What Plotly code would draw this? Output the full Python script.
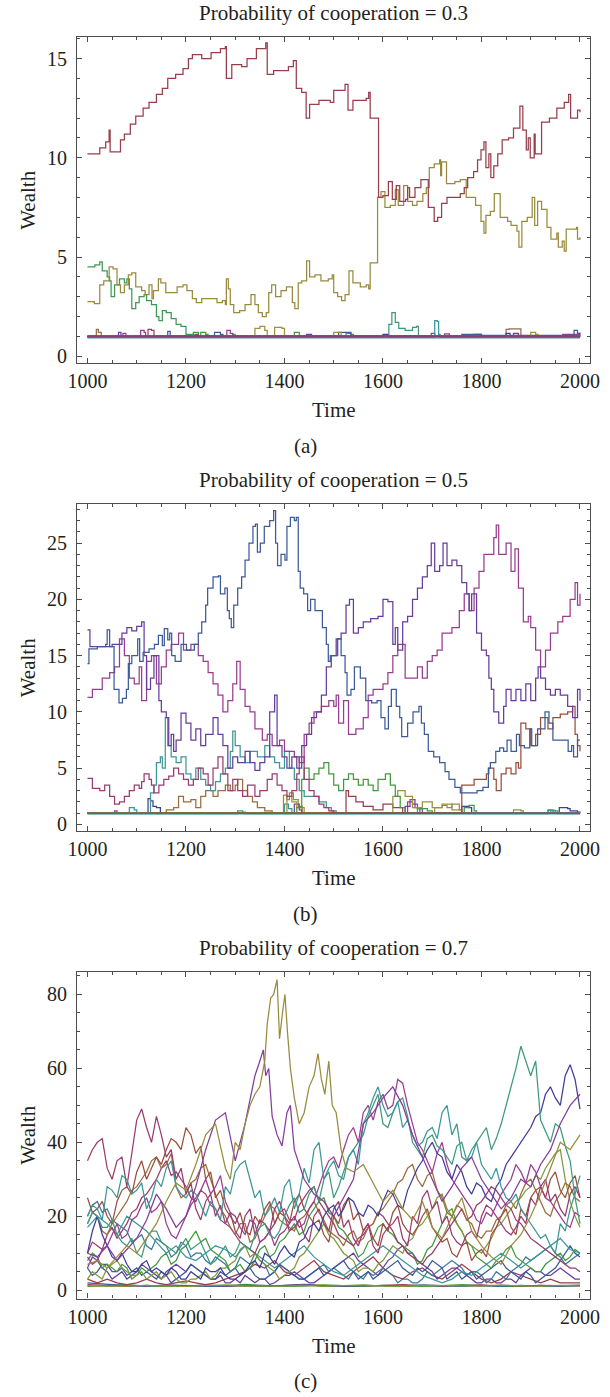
import plotly.graph_objects as go

FONT = "Liberation Serif, Times New Roman, serif"
TXT = "#231f20"
FRAME = "#4d4d4d"

# ---------------- colours (Mathematica-like default palette) ----------------
C_BLUEV = "#3F3D99"; C_REDMAG = "#993D71"; C_OLIVE = "#998B3D"; C_GREEN = "#3D9956"
C_BLUE = "#3D5A99"; C_MAGENTA = "#993D90"; C_BROWN = "#996D3D"; C_GREEN2 = "#43993D"
C_TEALBLUE = "#3D7999"; C_PURPLE = "#843D99"; C_REDBROWN = "#994E3D"; C_YGREEN = "#80993D"
C_CYAN = "#3D9799"; C_VIOLET = "#663D9C"; C_RED = "#993D4B"; C_TEALGREEN = "#3D997C"
C_YELLOW = "#99933D"; C_RED2 = "#993D6A"

# ============================ PANEL (a) p = 0.3 ============================
a_red_t = [1000,1010,1025,1037,1044,1046,1060,1067,1075,1087,1098,1113,1125,1140,1152,1163,1179,1194,1205,1213,
           1232,1251,1270,1280,1282,1293,1313,1324,1343,1362,1365,1378,1397,1408,1418,1424,1435,1444,1451,1470,
           1493,1500,1523,1529,1539,1566,1571,1574,1582,1591,1600,1611,1619,1627,1634,1646,1650,1654,1665,1677,
           1684,1692,1704,1711,1719,1730,1757,1765,1772,1784,1792,1799,1805,1809,1815,1819,1825,1833,1842,1855,
           1865,1878,1884,1891,1895,1899,1907,1909,1922,1938,1953,1968,1977,1981,1991,1995,2000]
a_red_w = [10.2,10.2,10.5,10.8,11.4,10.3,10.3,10.9,11.2,11.7,12.1,12.5,12.8,13.2,13.5,14.0,14.2,14.5,15.0,15.2,
           15.0,15.3,15.5,15.6,14.0,14.7,14.6,15.0,15.5,15.8,14.2,14.4,14.4,14.6,14.9,13.5,13.3,12.0,12.7,12.9,
           12.8,13.4,13.7,12.4,12.9,13.0,13.3,12.0,12.0,8.0,8.1,8.8,7.9,8.6,7.8,7.9,8.5,8.0,8.5,8.9,
           8.9,7.5,6.8,7.0,7.7,8.0,8.2,8.5,9.0,9.3,9.9,10.4,10.8,9.5,10.2,9.0,9.6,10.2,10.9,11.0,
           11.5,12.6,11.4,10.4,11.0,10.0,11.2,10.2,11.8,12.0,12.5,12.8,13.2,12.0,12.0,12.4,12.3]

a_olive_t = [1000,1014,1025,1033,1044,1052,1060,1067,1075,1083,1090,1098,1110,1117,1125,1131,1134,1144,1149,1159,
             1171,1182,1194,1202,1213,1221,1232,1248,1263,1274,1280,1282,1286,1290,1297,1309,1320,1332,1340,1347,
             1355,1363,1368,1374,1382,1393,1404,1416,1421,1428,1435,1445,1451,1462,1474,1489,1497,1500,1508,1516,
             1523,1531,1539,1554,1566,1571,1574,1582,1589,1596,1604,1615,1625,1631,1642,1650,1660,1669,1681,1688,
             1694,1704,1715,1717,1719,1729,1746,1757,1763,1769,1780,1788,1799,1805,1809,1818,1826,1838,1853,1860,
             1872,1876,1882,1893,1903,1908,1914,1922,1933,1941,1953,1956,1964,1968,1972,1993,1995,2000]
a_olive_w = [2.75,2.65,3.6,3.8,4.5,4.4,3.6,3.2,3.6,4.1,4.2,3.5,3.3,3.1,3.6,2.9,3.3,3.9,3.7,3.2,
             3.2,3.5,3.6,3.3,2.9,2.7,2.9,2.9,2.7,2.8,2.6,3.9,3.4,2.6,2.2,2.3,2.6,3.1,2.6,2.2,
             2.0,2.2,3.2,3.6,3.0,3.3,3.5,2.7,2.4,3.7,3.8,4.8,4.0,4.1,3.8,3.9,4.1,3.2,3.0,2.8,
             3.1,4.3,3.7,3.5,3.6,3.4,4.7,4.7,8.0,8.3,7.5,7.6,8.4,7.6,8.6,7.8,7.6,7.8,8.2,8.5,
             9.5,9.7,9.9,9.1,9.8,8.7,8.8,8.9,8.9,8.0,8.0,7.6,6.8,6.2,7.1,7.3,8.2,7.0,6.8,6.6,
             6.3,5.5,6.8,7.0,8.0,6.6,7.8,7.4,6.5,5.9,6.2,5.5,5.8,5.3,6.4,6.5,5.9,6.0]

a_green_t = [1000,1015,1025,1030,1040,1045,1048,1055,1065,1075,1080,1085,1090,1098,1105,1115,1120,1130,1140,1145,
             1152,1160,1170,1180,1190,1200,1215,1225,1290,1295,1300,1520,1525,1535,1540,2000]
a_green_w = [4.5,4.6,4.75,4.3,4.0,3.8,3.0,3.6,3.9,3.7,3.9,3.4,2.4,2.7,3.0,3.1,2.8,2.6,2.0,1.8,
             2.3,2.2,1.9,1.6,1.5,1.1,1.2,1.0,1.0,1.1,1.0,1.0,1.15,1.1,1.0,1.0]

a_base = [
    (C_CYAN,    [1000,2000], [0.93,0.93]),
    (C_BROWN,   [1000,1015,1018,1022,1028,1845,1850,1856,1875,1880,2000],
                [1.0,1.0,1.35,1.2,1.0,1.0,1.35,1.38,1.38,1.0,1.0]),
    (C_MAGENTA, [1000,1070,1072,1078,1105,1108,1115,1118,1280,1283,1290,1295,1695,1698,1705,1960,1965,2000],
                [0.98,0.98,1.15,1.0,1.0,1.3,1.2,1.0,1.0,1.3,1.15,1.0,1.0,1.15,1.0,1.0,1.1,1.0]),
    (C_REDMAG,  [1000,1120,1123,1130,1135,1215,1218,1225,1720,1725,1735,1780,1785,1800,2000],
                [1.0,1.0,1.35,1.3,1.0,1.0,1.1,1.0,1.0,1.12,1.0,1.0,1.1,1.0,1.0]),
    (C_BLUE,    [1000,1160,1163,1168,1255,1258,1270,1275,1505,1510,1530,1535,1750,1760,1800,1985,1988,1995,2000],
                [0.97,0.97,1.25,1.0,1.0,1.2,1.1,1.0,1.0,1.2,1.2,1.0,1.0,1.1,1.05,1.05,1.3,1.15,1.2]),
    (C_VIOLET,  [1000,1060,1063,1068,1440,1445,1455,1860,1865,1875,2000],
                [1.0,1.0,1.2,1.0,1.0,1.1,1.0,1.0,1.15,1.0,1.0]),
    (C_YELLOW,  [1000,1335,1340,1350,1360,1365,1375,1380,1395,1400,1495,1500,1510,1515,1895,1900,1910,1915,2000],
                [1.0,1.0,1.4,1.5,1.3,1.0,1.0,1.45,1.4,1.0,1.0,1.2,1.2,1.0,1.0,1.2,1.1,1.0,1.0]),
    (C_GREEN2,  [1000,1225,1230,1240,1245,1415,1420,1430,2000],
                [1.0,1.0,1.2,1.1,1.0,1.0,1.2,1.0,1.0]),
    (C_TEALGREEN,[1000,1605,1612,1618,1625,1632,1645,1660,1668,1672,2000],
                [0.95,0.95,1.6,2.2,1.7,1.4,1.3,1.45,1.5,1.0,0.95]),
    (C_CYAN,    [1000,1702,1705,1710,1713,1716,2000],
                [0.95,0.95,1.8,1.75,1.1,0.95,0.95]),
    (C_BLUEV,   [1000,1595,1600,1610,1845,1850,1858,2000],
                [1.0,1.0,1.1,1.0,1.0,1.15,1.0,1.0]),
    (C_PURPLE,  [1000,2000], [1.03,1.03]),
    (C_RED2,    [1000,2000], [0.97,0.97]),
]

# ============================ PANEL (b) p = 0.5 ============================
b_blue_t = [1000,1003,1020,1037,1040,1045,1054,1064,1071,1079,1083,1090,1102,1106,1113,1125,1136,1144,1152,1156,
            1163,1167,1171,1178,1190,1201,1217,1225,1232,1240,1244,1255,1266,1270,1279,1284,1288,1292,1297,1305,
            1313,1320,1328,1336,1341,1345,1351,1359,1370,1378,1382,1386,1393,1401,1405,1412,1420,1424,1428,1432,
            1439,1447,1453,1462,1470,1477,1485,1489,1493,1508,1515,1523,1527,1535,1542,1554,1565,1577,1588,1596,
            1604,1611,1617,1627,1634,1638,1646,1650,1661,1673,1678,1684,1692,1703,1715,1726,1734,1746,1757,1768,
            1791,1803,1810,1814,1818,1829,1837,1845,1852,1860,1871,1877,1887,1898,1902,1914,1929,1937,1945,1960,
            1976,1983,1987,1995,2000]
b_blue_w = [14.3,15.6,15.8,16.0,17.3,15.8,12.0,10.8,11.2,12.0,14.3,15.0,16.5,14.5,15.3,15.6,16.0,16.8,15.9,17.4,
            16.4,17.0,15.0,14.5,16.0,15.5,16.0,17.0,18.0,19.5,21.0,22.0,22.1,20.5,21.0,19.0,18.3,17.5,19.5,21.0,
            22.0,23.5,25.0,26.5,26.7,24.2,25.0,26.5,27.0,27.9,25.0,23.0,24.0,23.5,26.5,27.3,27.0,27.3,22.5,21.0,
            20.5,19.0,20.0,19.0,19.0,17.5,16.0,14.5,15.0,16.5,15.0,13.5,11.5,12.0,14.0,13.0,11.0,10.8,11.0,9.5,
            8.5,10.5,12.0,10.5,9.5,7.8,7.8,9.0,10.0,10.5,9.0,8.0,6.5,6.0,5.5,4.7,4.0,3.3,2.8,2.8,
            3.0,3.3,3.3,5.0,5.5,6.5,6.8,6.5,7.5,6.5,8.0,7.0,6.8,8.5,7.0,8.5,10.0,9.0,7.5,7.5,
            6.5,7.0,6.0,7.5,7.5]

b_violet_t = [1000,1005,1050,1070,1080,1090,1100,1110,1115,1120,1128,1135,1145,1150,1160,1165,1170,1175,1180,1190,
              1200,1210,1220,1230,1240,1255,1265,1275,1285,1295,1305,1320,1330,1340,1350,1360,1370,1380,1385,1395,
              1405,1415,1425,1435,1445,1455,1465,1475,1485,1495,1505,1515,1525,1532,1540,1550,1560,1575,1590,1600,
              1610,1620,1625,1630,1640,1650,1660,1670,1680,1690,1698,1705,1715,1722,1730,1740,1750,1760,1770,1775,
              1780,1790,1800,1810,1815,1820,1825,1835,1845,1850,1860,1870,1880,1890,1900,1910,1915,1920,1930,1940,
              1950,1960,1975,1985,1995,2000]
b_violet_w = [17.3,15.8,16.0,17.0,17.5,17.2,17.6,18.0,15.0,12.0,13.0,15.0,11.0,10.0,9.5,7.0,8.0,6.5,7.5,9.9,
              9.0,7.5,8.5,7.0,8.0,9.5,8.0,7.0,5.0,6.0,5.5,6.5,5.5,4.8,5.5,6.0,10.0,11.5,7.0,6.0,
              5.0,6.0,5.0,7.0,8.0,9.5,10.0,11.5,14.0,15.0,16.5,17.0,19.5,20.0,17.0,17.5,18.0,18.3,18.5,20.0,
              19.8,16.0,17.5,15.5,18.0,18.5,20.0,21.0,22.0,23.0,25.0,22.5,23.0,25.0,23.0,23.5,23.0,21.5,20.5,19.0,
              20.5,17.0,15.5,15.0,13.0,12.0,10.0,9.0,10.5,12.0,11.0,12.0,11.0,12.5,11.0,13.0,14.0,13.0,12.0,11.5,
              12.0,11.5,10.5,9.5,12.0,11.0]

b_magenta_t = [1000,1010,1030,1045,1055,1065,1075,1085,1095,1105,1110,1120,1130,1140,1150,1160,1170,1185,1195,1210,
               1225,1235,1245,1255,1265,1275,1285,1295,1303,1310,1320,1330,1340,1355,1365,1375,1390,1400,1410,1420,
               1430,1440,1450,1460,1475,1490,1500,1505,1510,1520,1530,1545,1560,1570,1580,1600,1610,1620,1630,1645,
               1660,1670,1680,1690,1700,1710,1720,1740,1755,1765,1775,1785,1795,1805,1815,1825,1830,1835,1850,1860,
               1868,1875,1885,1895,1900,1910,1920,1930,1940,1955,1965,1980,1990,1995,2000]
b_magenta_w = [11.3,12.0,13.0,13.5,14.0,16.5,15.0,13.0,12.5,14.0,11.0,14.5,15.0,12.5,14.0,15.5,16.0,17.0,15.5,16.0,
               15.0,14.5,13.5,12.5,11.5,10.0,11.0,12.5,14.5,12.0,10.5,10.0,8.5,7.5,8.0,7.0,7.5,6.5,6.5,6.0,
               5.5,8.0,9.0,10.0,10.5,11.0,10.5,11.5,9.0,11.0,8.0,8.5,9.5,11.5,12.0,12.5,13.5,15.0,16.0,13.0,
               13.0,14.0,13.0,14.5,15.0,15.5,17.0,17.5,19.0,20.5,19.0,21.0,22.5,24.0,24.0,25.5,26.6,24.0,25.0,22.5,
               24.5,21.0,18.0,18.5,17.5,15.5,14.0,15.5,17.0,18.0,18.5,20.0,21.5,19.5,20.5]

b_redmag_t = [1000,1010,1025,1035,1045,1055,1065,1075,1085,1095,1105,1110,1115,1125,1130,1135,1145,1155,1165,1175,
              1185,1195,1205,1215,1225,1235,1245,1255,1265,1275,1285,1295,1305,1315,1325,1340,1350,1365,1375,1385,
              1395,1405,1415,1425,1430,1440,1450,1460,1470,1480,1490,1500,2000]
b_redmag_w = [4.1,3.2,3.0,3.5,2.5,1.8,2.0,2.5,3.0,3.5,3.2,3.8,4.5,4.0,3.5,2.8,3.5,4.0,4.3,5.0,
              4.5,4.0,3.5,4.0,5.0,4.5,3.5,5.0,6.0,4.5,3.0,4.0,3.0,2.5,3.5,2.5,3.0,4.0,4.5,3.5,
              3.0,2.5,3.0,4.5,6.0,4.0,3.0,2.5,1.8,1.5,1.2,1.0,1.0]

b_red_t = [1000,1520,1525,1530,1545,1560,1580,1600,1620,1640,2000]
b_red_w = [1.0,1.0,3.0,2.5,2.0,1.6,1.3,1.8,1.5,1.0,1.0]

b_cyan_t = [1000,1125,1128,1135,1140,1148,1152,1158,1163,1170,1180,1190,1200,1210,1220,1230,1240,1250,1260,1270,
            1280,1290,1295,1300,1310,1320,1330,1345,1360,1370,1380,1390,1400,1410,1420,1430,1440,1455,1470,1485,
            1495,1505,2000]
b_cyan_w = [1.0,1.0,2.8,3.5,5.5,6.0,5.0,9.5,7.0,6.0,5.5,6.0,4.5,4.0,5.0,4.0,3.5,3.0,3.8,4.5,
            5.0,6.5,8.3,7.0,6.0,5.5,6.5,6.0,7.0,6.0,5.5,5.0,6.5,5.0,4.0,3.0,2.5,2.5,2.0,1.5,
            1.2,1.0,1.0]

b_brown_t = [1000,1150,1160,1175,1185,1195,1210,1220,1230,1240,1255,1265,1280,1290,1300,1305,1315,1325,1335,1345,
             1360,1375,2000]
b_brown_w = [1.0,1.0,1.3,1.5,2.5,2.0,2.2,1.5,2.5,3.0,2.5,3.0,3.5,3.0,3.5,4.0,3.0,2.5,2.0,1.5,
             1.2,1.0,1.0]

b_green_t = [1000,1420,1425,1435,1440,1450,1460,1470,1480,1490,1500,1510,1520,1530,1540,1550,1560,1570,1580,1590,
             1605,1615,1625,1635,1645,2000]
b_green_w = [1.0,1.0,1.5,4.0,5.0,4.0,4.5,5.0,5.5,4.5,3.5,3.0,4.0,4.5,4.0,3.5,4.0,3.5,3.0,4.0,
             4.5,3.5,2.5,1.5,1.0,1.0]

b_yellow_t = [1000,1400,1405,1415,1425,1440,1615,1620,1630,1645,1660,1680,1700,1720,1740,1760,2000]
b_yellow_w = [1.0,1.0,2.5,2.0,1.5,1.0,1.0,2.5,3.0,2.5,1.5,2.0,1.5,1.8,1.3,1.0,1.0]

b_redbrown_t = [1000,1755,1760,1775,1785,1800,1810,1815,1825,1830,1840,1850,1860,1870,1875,1880,1890,1900,1910,1920,
                1935,1945,1960,1975,1985,1990,1995,2000]
b_redbrown_w = [1.0,1.0,3.5,3.5,4.0,4.0,4.5,5.0,4.0,3.0,4.5,5.0,4.5,5.5,5.0,9.0,8.5,7.0,8.0,9.5,
                8.5,9.5,9.8,10.0,10.5,8.0,7.0,6.5]

b_base = [
    (C_CYAN,    [1000,2000], [0.93,0.93]),
    (C_BLUEV,   [1000,1120,1123,1128,1133,1140,1148,1755,1760,1775,1780,1955,1958,1975,1980,1995,2000],
                [1.0,1.0,2.3,2.1,1.6,1.5,1.0,1.0,1.6,1.5,1.0,1.0,1.5,1.4,1.2,1.1,1.0]),
    (C_CYAN,    [1000,1080,1085,1095,1100,1395,1400,1408,1415,1930,1935,1945,2000],
                [1.0,1.0,1.5,1.3,1.0,1.0,1.8,1.4,1.0,1.0,1.3,1.0,1.0]),
    (C_OLIVE,   [1000,1395,1398,1405,1410,1418,1428,1436,1700,1705,1720,1730,1740,1755,1760,2000],
                [1.0,1.0,2.6,2.2,2.8,2.2,1.6,1.0,1.0,1.5,1.7,1.5,1.8,1.3,1.0,1.0]),
    (C_MAGENTA, [1000,1050,1055,1060,1640,1650,1660,1670,1680,2000],
                [1.0,1.0,1.2,1.0,1.0,2.0,1.8,1.4,1.0,1.0]),
    (C_PURPLE,  [1000,1415,1420,1430,1435,1640,1645,1655,1665,1675,2000],
                [1.0,1.0,1.8,1.3,1.0,1.0,1.6,2.2,1.5,1.0,1.0]),
    (C_GREEN,   [1000,1665,1670,1690,1700,1760,1765,1775,1785,1790,2000],
                [1.0,1.0,1.4,1.2,1.0,1.0,1.5,1.7,1.2,1.0,1.0]),
    (C_YGREEN,  [1000,1860,1865,1880,1885,1935,1940,1950,2000],
                [1.0,1.0,1.3,1.2,1.0,1.0,1.2,1.0,1.0]),
    (C_TEALGREEN,[1000,1300,1305,1315,1320,1930,1935,1950,1955,2000],
                [0.95,0.95,1.2,1.1,0.95,0.95,1.25,1.2,0.95,0.95]),
    (C_BROWN,   [1000,2000], [1.03,1.03]),
    (C_RED2,    [1000,2000], [0.97,0.97]),
]

# ============================ PANEL (c) p = 0.7 ============================
c_olive_t = [1000,1020,1040,1060,1080,1100,1120,1140,1160,1180,1200,1220,1240,1260,1280,
             1290,1300,1310,1320,1330,1340,1350,1360,
             1365,1372,1378,1385,1390,1396,1401,1406,1412,
             1420,1430,1440,1450,1460,1468,1475,1482,1490,1497,
             1505,1515,1525,1540,1560,1580,
             1600,1620,1640,1660,1680,1700,1720,1740,1760,1780,1800,1820,1840,1860,1880,1900,1920,1940,1960,1980,2000]
c_olive_w = [7,8,6,9,12,10,14,18,24,29,27,34,42,45,33,
             30,40,38,45,50,53,55,62,
             72,79,80,84,68,75,80,70,60,
             52,45,48,55,58,64,57,53,62,50,
             48,38,33,32,34,29,
             24,27,22,19,24,17,14,20,25,16,12,9,7,12,15,20,26,33,40,38,42]

c_purple_t = [1000,1020,1040,1060,1080,1100,1120,1140,1160,1180,1200,1220,1240,1260,1280,
              1300,1320,1340,1350,1357,1362,1368,1375,1385,1395,1405,1412,1420,1440,1460,1480,1500,
              1520,1540,1560,1580,1600,1620,1640,1660,1680,1700,1720,1740,1760,1780,1800,1820,1840,1860,
              1880,1900,1920,1940,1960,1980,2000]
c_purple_w = [10,9,12,8,11,14,19,26,22,17,20,28,38,46,48,
              35,45,58,62,65,58,60,47,42,39,48,50,38,30,26,24,20,
              25,30,45,48,52,55,50,42,36,30,24,28,33,36,30,26,22,25,
              30,28,34,38,45,50,53]

# remaining panel (c) series: value every 20 time units (1000..2000) and in-between value (1010..1990)
c_redmag  = [35,40,33,35,28,46,44,47,36,30, 26,22,24,20,18,16,20,15,18,22, 20,17,15,20,18,22,17,14,16,12,
             15,18,14,20,25,22,18,15,12,16, 20,22,18,15,20,25,28,24,22,26, 25]
c_redmag_m= [38,41,30,36,37,49,40,42,38,33, 29,19,26,23,21,14,22,19,16,24, 16,19,13,22,16,24,19,12,18,10,
             17,20,12,18,27,24,20,13,15,14, 23,20,16,17,18,23,30,26,20,28]
c_redbrown= [25,22,20,24,28,32,30,36,38,40, 44,37,30,25,22,18,16,20,22,18, 20,24,22,18,15,20,23,19,16,14,
             18,21,18,15,20,17,13,10,12,8, 11,15,20,17,22,25,28,30,27,29, 25]
c_redbrown_m=[21,24,18,27,26,35,33,34,41,38, 42,39,32,27,20,21,15,18,24,21, 18,26,20,19,13,18,25,21,18,12,
             16,23,16,17,22,15,14,9,13,10, 9,17,22,15,20,27,25,32,25,31]
c_cyan    = [20,22,28,25,30,27,22,30,33,28, 25,26,20,22,28,32,35,25,20,25, 28,22,33,38,30,35,30,38,45,52,
             50,48,44,42,40,44,48,42,36,38, 34,30,28,24,22,18,14,12,18,22, 31]
c_cyan_m  = [23,19,27,31,26,29,25,28,35,26, 27,23,24,19,26,34,30,27,22,21, 30,26,29,40,33,31,36,34,48,55,
             47,51,46,39,43,41,50,45,35,40, 32,33,25,26,20,16,15,10,16,26]
c_tealgreen=[18,20,17,15,12,10,14,16,12,10, 14,12,10,8,12,10,12,15,18,14, 20,25,22,28,30,25,32,38,42,50,
             45,48,52,40,36,42,38,34,40,36, 42,38,45,55,66,58,46,40,44,35, 18]
c_tealgreen_m=[21,17,19,13,14,9,16,13,11,12, 11,13,7,10,9,13,11,17,15,16, 23,21,26,24,32,28,36,40,47,53,
             44,51,47,38,41,39,36,39,35,40, 44,41,50,60,62,62,43,45,39,25]
c_bluev   = [10,20,12,8,7,5,8,6,4,5, 3,4,6,5,4,3,5,8,10,7, 12,9,14,18,20,23,22,24,20,22,
             24,26,22,30,35,40,36,30,32,26, 28,24,30,36,40,44,48,55,50,61, 49]
c_bluev_m = [16,15,9,10,5,7,5,5,6,3, 5,3,5,6,3,4,7,6,9,10, 10,13,17,16,22,20,25,21,23,20,
             27,23,27,33,38,37,32,34,28,29, 25,28,34,38,42,47,53,52,58,57]
c_magenta = [9,8,12,18,15,20,25,22,18,14, 20,25,30,28,24,20,15,18,14,12, 16,20,18,24,32,36,38,44,48,46,
             53,50,56,45,38,32,40,30,26,22, 18,20,26,30,32,34,28,24,20,17, 20]
c_magenta_m=[7,11,15,14,19,23,21,24,15,17, 23,27,26,31,21,17,19,13,16,15, 18,17,22,28,35,33,42,40,50,51,
             49,57,50,40,35,37,34,28,24,19, 21,23,28,34,29,32,25,22,18,21]
c_brown   = [18,20,15,20,24,28,32,36,34,28, 26,30,34,26,20,15,18,14,20,22, 18,16,20,24,19,15,12,16,14,18,
             22,26,30,34,28,32,25,20,22,18, 14,16,20,24,26,30,24,20,26,28, 24]
c_brown_m = [21,16,18,22,27,30,35,33,37,25, 29,33,30,22,17,18,13,17,23,19, 17,19,22,21,16,14,15,13,17,21,
             24,29,33,30,31,27,21,23,19,15, 16,19,23,22,29,27,21,24,29,25]
c_red2    = [10,12,15,14,18,22,26,30,35,32, 28,24,26,22,18,15,12,10,14,18, 22,19,25,28,22,18,14,12,15,18,
             20,16,12,9,7,10,14,18,22,20, 24,28,25,22,18,14,12,10,8,6, 5]
c_red2_m  = [13,11,17,16,21,25,28,33,31,30, 25,27,23,19,17,13,11,13,16,21, 19,23,27,24,20,15,13,14,17,21,
             18,13,10,8,9,12,16,20,19,23, 26,27,23,19,16,13,11,9,7,6]
c_green   = [8,9,7,5,6,4,5,7,10,8, 12,16,14,10,8,6,5,8,12,10, 14,18,16,22,25,20,16,12,10,14,
             18,15,12,10,8,12,18,22,16,12, 8,6,9,12,8,6,5,8,10,9, 10]
c_green_m = [10,6,6,7,3,6,6,9,7,11, 14,13,11,9,5,7,6,11,9,13, 16,15,20,24,21,17,14,9,13,17,
             16,13,11,7,11,15,21,18,13,9, 7,8,11,9,7,5,7,9,8,11]
c_ygreen  = [3,4,6,8,5,4,3,5,4,3, 2,3,5,4,6,8,12,10,7,5, 4,6,10,14,18,14,10,8,6,5,
             8,12,10,14,18,22,26,20,16,12, 10,14,18,22,25,28,30,35,38,24, 17]
c_ygreen_m= [5,3,7,6,4,5,4,3,5,2, 3,4,3,6,7,11,9,8,6,3, 5,9,12,16,15,12,9,5,6,7,
             10,11,13,17,20,25,22,18,13,11, 12,17,20,24,27,31,33,37,30,20]
c_tealblue= [20,24,22,18,16,14,12,14,12,10, 12,10,8,9,7,6,8,10,7,5, 6,4,3,5,7,6,4,5,3,4,
             6,4,3,2,3,4,6,8,6,5, 4,3,4,5,7,8,10,12,9,8, 10]
c_tealblue_m=[23,21,19,17,13,15,11,13,9,13, 9,10,7,8,5,9,7,8,4,7, 5,3,4,6,5,5,3,4,5,5,
             5,2,3,2,5,5,7,7,4,5, 2,5,3,6,9,9,11,10,7,9]
c_blue    = [6,5,7,5,4,6,5,3,4,3, 5,6,4,3,4,6,5,4,3,5, 6,4,3,5,4,6,8,5,4,3,
             5,7,6,4,5,8,6,4,3,5, 4,6,8,5,3,4,3,5,8,12, 9]
c_blue_m  = [4,7,5,6,5,4,4,5,2,4, 7,5,3,5,5,4,6,3,4,7, 5,3,4,6,5,7,6,3,5,4,
             6,8,5,6,6,7,3,5,4,3, 5,7,6,4,5,2,4,6,10,10]
c_violet  = [6,8,5,4,3,5,6,4,5,7, 5,6,4,3,2,3,4,2,3,2, 4,5,3,2,4,6,8,10,7,5,
             6,9,12,10,7,5,4,6,5,3, 2,3,2,3,4,6,5,4,6,4, 3]
c_violet_m= [9,6,3,5,4,7,5,3,6,6, 7,5,3,4,2,2,3,3,1.5,3, 4,4,2,3,5,7,9,8,6,4,
             8,11,10,8,6,3,5,6,4,2, 3,2,3,2,5,5,4,5,5,3]
c_red     = [3,2,3,2,1.5,2,3,2,1.5,2, 2.5,2,1.5,2,3,4,5,7,6,8, 5,4,6,8,5,4,3,5,7,9,
             6,4,3,5,6,4,3,5,7,5, 3,2,3,5,4,3,2,3,2,2, 2]
c_cyan2   = [17,20,18,15,20,18,16,13,10,12, 9,8,10,12,11,9,12,10,8,6, 8,10,12,9,7,5,4,6,8,10,
             12,10,8,6,4,3,2,3,5,4, 6,8,10,8,6,8,10,12,14,11, 10]

# near-baseline series in panel (c), one value every 40 time units
c_base1 = [1.5,1.2,1,1.3,1,1.1,1.4,1,1.2,1, 1.3,1.6,1.2,1,1.1,1.3,1.5,1.2,1,1.2, 1.4,1.1,1,1.3,1.2,1.4]
c_base2 = [1,1.2,1.5,1.1,1,1.3,1,1.2,1.6,1.3, 1,1.1,1.4,1.2,1,1.3,1.1,1,1.2,1.5, 1.2,1,1.1,1.3,1,1.2]
c_base3 = [2,1.5,1.2,1,1.4,1.2,1,1.1,1.3,1, 1.2,1.5,1.1,1,1.3,1.2,1,1.4,1.1,1, 1.2,1.1,1.3,1,1.1,1.2]
c_base4 = [1.2,1,1.1,1.3,1.1,1,1.2,1.4,1.1,1, 1.1,1.3,1,1.2,1.4,1.1,1,1.3,1.2,1, 1.1,1.4,1.2,1,1.3,1.1]

T40 = list(range(1000, 2001, 40))

titles = ["Probability of cooperation = 0.3", "Probability of cooperation = 0.5", "Probability of cooperation = 0.7"]
sublabels = ["(a)", "(b)", "(c)"]
x_label = "Time"
y_label = "Wealth"


def weave(main, mid=None):
    """Join the values at 1000,1020,... with the in-between readings at 1010,1030,..."""
    t, w = [], []
    for i, v in enumerate(main):
        t.append(1000 + 20 * i); w.append(v)
        if mid is not None and i < len(mid):
            t.append(1010 + 20 * i); w.append(mid[i])
    return t, w

# ---------------------------------------------------------------------------
fig = go.Figure()

def add(axn, t, w, color, shape="hv", width=1.25):
    sfx = "" if axn == 1 else str(axn)
    fig.add_trace(go.Scatter(x=t, y=w, mode="lines",
                             line=dict(color=color, width=width, shape=shape),
                             xaxis="x" + sfx, yaxis="y" + sfx,
                             showlegend=False, hoverinfo="skip"))

# panel a
add(1, a_green_t, a_green_w, C_GREEN)
for col, t, w in a_base:
    add(1, t, w, col)
add(1, a_olive_t, a_olive_w, C_OLIVE)
add(1, a_red_t, a_red_w, C_RED)

# panel b
for col, t, w in b_base:
    add(2, t, w, col)
add(2, b_red_t, b_red_w, C_RED)
add(2, b_yellow_t, b_yellow_w, C_YELLOW)
add(2, b_brown_t, b_brown_w, C_BROWN)
add(2, b_green_t, b_green_w, C_GREEN2)
add(2, b_cyan_t, b_cyan_w, C_CYAN)
add(2, b_redmag_t, b_redmag_w, C_REDMAG)
add(2, b_redbrown_t, b_redbrown_w, C_REDBROWN)
add(2, b_magenta_t, b_magenta_w, C_MAGENTA)
add(2, b_violet_t, b_violet_w, C_VIOLET)
add(2, b_blue_t, b_blue_w, C_BLUE)

# panel c
for col, w in [(C_RED, c_base1), (C_GREEN2, c_base2), (C_BLUE, c_base3), (C_YGREEN, c_base4)]:
    add(3, T40[:len(w)], w, col, shape="linear")
for col, w, m in [(C_RED, c_red, None), (C_VIOLET, c_violet, c_violet_m), (C_TEALBLUE, c_tealblue, c_tealblue_m),
                  (C_BLUE, c_blue, c_blue_m), (C_GREEN2, c_green, c_green_m), (C_YGREEN, c_ygreen, c_ygreen_m),
                  (C_CYAN, c_cyan2, None), (C_RED2, c_red2, c_red2_m), (C_BROWN, c_brown, c_brown_m),
                  (C_REDBROWN, c_redbrown, c_redbrown_m), (C_REDMAG, c_redmag, c_redmag_m),
                  (C_MAGENTA, c_magenta, c_magenta_m), (C_BLUEV, c_bluev, c_bluev_m),
                  (C_TEALGREEN, c_tealgreen, c_tealgreen_m), (C_CYAN, c_cyan, c_cyan_m)]:
    t, w2 = weave(w, m)
    add(3, t, w2, col, shape="linear")
add(3, c_purple_t, c_purple_w, C_PURPLE, shape="linear")
add(3, c_olive_t, c_olive_w, C_OLIVE, shape="linear")

# ---------------------------------------------------------------------------
H = 1397.0
W = 610.0
X0, X1 = 69.4 / W, 600.0 / W
panels = [  # (top px, bottom px, y range, major, minor)
    (37.3, 364.0, [-0.34, 16.08], 5, 1),
    (505.7, 833.3, [-0.58, 28.46], 5, 1),
    (974.3, 1302.3, [-2.27, 86.2], 20, 5),
]

tickfont = dict(family=FONT, size=20, color=TXT)
labfont = dict(family=FONT, size=21, color=TXT)
layout = dict(width=610, height=1397, margin=dict(l=0, r=0, t=0, b=0),
              paper_bgcolor="white", plot_bgcolor="white", showlegend=False)

annotations = []
for i, (top, bot, yr, maj, mnr) in enumerate(panels):
    sfx = "" if i == 0 else str(i + 1)
    layout["xaxis" + sfx] = dict(
        domain=[X0, X1], range=[979, 2021], anchor="y" + sfx,
        tick0=1000, dtick=200, ticks="inside", ticklen=5, tickwidth=1, tickcolor=FRAME,
        minor=dict(dtick=50, tick0=1000, ticks="inside", ticklen=3, tickwidth=1, tickcolor=FRAME),
        showline=True, linecolor=FRAME, linewidth=1.3, mirror="ticks",
        showgrid=False, zeroline=False, tickfont=tickfont)
    layout["yaxis" + sfx] = dict(
        domain=[1 - bot / H, 1 - top / H], range=yr, anchor="x" + sfx,
        tick0=0, dtick=maj, ticks="inside", ticklen=5, tickwidth=1, tickcolor=FRAME,
        minor=dict(dtick=mnr, tick0=0, ticks="inside", ticklen=3, tickwidth=1, tickcolor=FRAME),
        showline=True, linecolor=FRAME, linewidth=1.3, mirror="ticks", ticklabelstandoff=5,
        showgrid=False, zeroline=False, tickfont=tickfont)
    cx = (X0 + X1) / 2
    annotations.append(dict(text=titles[i], x=cx, y=1 - (top - 24) / H, xref="paper", yref="paper",
                            xanchor="center", yanchor="middle", showarrow=False, font=labfont))
    annotations.append(dict(text=x_label, x=cx, y=1 - (bot + 47.5) / H, xref="paper", yref="paper",
                            xanchor="center", yanchor="middle", showarrow=False, font=labfont))
    annotations.append(dict(text=sublabels[i], x=0.5, y=1 - (bot + 83) / H, xref="paper", yref="paper",
                            xanchor="center", yanchor="middle", showarrow=False, font=labfont))
    annotations.append(dict(text=y_label, x=18.3 / W, y=1 - (top + bot) / 2 / H, xref="paper", yref="paper",
                            xanchor="center", yanchor="middle", showarrow=False, textangle=-90, font=labfont))
layout["annotations"] = annotations
fig.update_layout(**layout)

fig.write_html("out.html")
